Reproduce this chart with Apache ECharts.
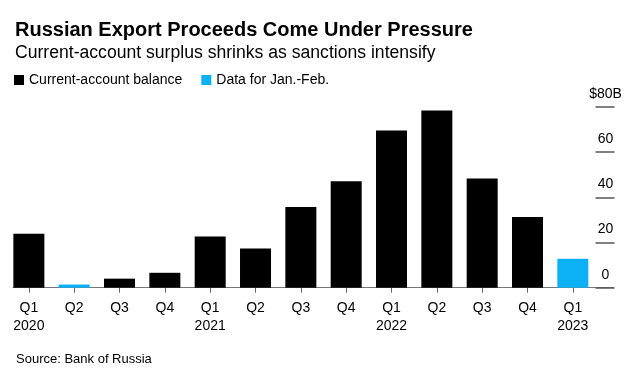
<!DOCTYPE html>
<html>
<head>
<meta charset="utf-8">
<style>html,body{margin:0;padding:0;background:#fff}#c{width:640px;height:381px}</style>
<script src="https://cdn.jsdelivr.net/npm/echarts@6/dist/echarts.min.js"></script>
</head>
<body>
<div id="c"></div>
<script>
const quarters = ['Q1\n2020','Q2','Q3','Q4','Q1\n2021','Q2','Q3','Q4','Q1\n2022','Q2','Q3','Q4','Q1\n2023'];
const balance  = [23.9, null, 4.0, 6.6, 22.7, 17.4, 35.7, 47.1, 69.6, 78.4, 48.3, 31.3, null];
const janFeb   = [null, 1.4, null, null, null, null, null, null, null, null, null, null, 12.8];
const yTicks = [0, 20, 40, 60, 80];

const font = 'Liberation Sans, Arial, Helvetica, sans-serif';
const chart = echarts.init(document.getElementById('c'), null, {renderer: 'canvas'});
chart.setOption({
  animation: false,
  backgroundColor: '#fff',
  title: [
    {text: 'Russian Export Proceeds Come Under Pressure', left: 10, top: 15,
     textStyle: {fontFamily: font, fontSize: 20, fontWeight: 'bold', color: '#000'}},
    {text: 'Current-account surplus shrinks as sanctions intensify', left: 10, top: 39,
     textStyle: {fontFamily: font, fontSize: 17.6, fontWeight: 'normal', color: '#000'}},
    {text: 'Source: Bank of Russia', left: 11, top: 348,
     textStyle: {fontFamily: font, fontSize: 13, fontWeight: 'normal', color: '#000'}}
  ],
  legend: {
    left: 9, top: 68, itemWidth: 10, itemHeight: 10, itemGap: 19, icon: 'rect',
    textStyle: {fontFamily: font, fontSize: 14, color: '#000'},
    data: ['Current-account balance', 'Data for Jan.-Feb.']
  },
  grid: [
    {left: 6.2, right: 44.5, top: 107, bottom: 93.3, containLabel: false},
    {left: 13, right: 27, top: 107, bottom: 93.3, containLabel: false}
  ],
  xAxis: [
    {type: 'category', gridIndex: 0, data: quarters,
     axisLine: {show: false},
     axisTick: {show: true, alignWithLabel: true, length: 5, lineStyle: {color: '#666'}},
     axisLabel: {fontFamily: font, fontSize: 14, color: '#000', margin: 11, lineHeight: 18, interval: 0}},
    {type: 'value', gridIndex: 1, min: 0, max: 1,
     axisLine: {show: true, lineStyle: {color: '#777', width: 1}},
     axisTick: {show: false}, axisLabel: {show: false}, splitLine: {show: false}}
  ],
  yAxis: [
    {type: 'value', gridIndex: 0, position: 'right', min: 0, max: 80, interval: 20,
     axisLine: {show: false},
     axisTick: {show: true, length: 19, lineStyle: {color: '#555', width: 1.5}},
     splitLine: {show: false},
     axisLabel: {fontFamily: font, fontSize: 14, color: '#000', align: 'center', margin: 10,
       verticalAlign: 'bottom', padding: [0, 0, 6, 0],
       formatter: v => v === yTicks[yTicks.length - 1] ? '$' + v + 'B' : String(v)}},
    {type: 'value', gridIndex: 1, show: false}
  ],
  series: [
    {name: 'Current-account balance', type: 'bar', data: balance, barWidth: 31, barGap: '-100%',
     itemStyle: {color: '#000'}},
    {name: 'Data for Jan.-Feb.', type: 'bar', data: janFeb, barWidth: 31, barGap: '-100%',
     itemStyle: {color: '#0bb0f5'}}
  ]
});
</script>
</body>
</html>
